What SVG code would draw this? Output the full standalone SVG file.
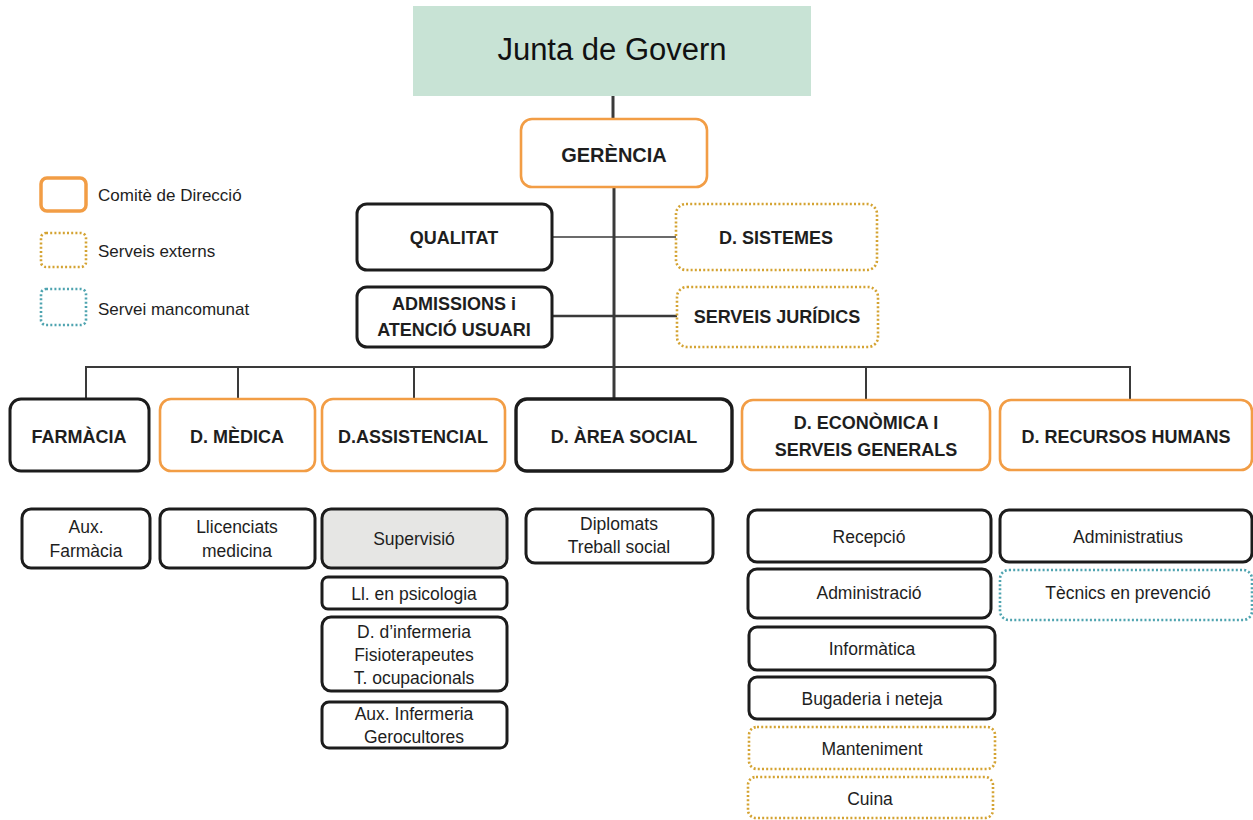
<svg xmlns="http://www.w3.org/2000/svg" width="1253" height="820" viewBox="0 0 1253 820">
<style>
  text { font-family: "Liberation Sans", Arial, sans-serif; fill: #1e1e1e; text-anchor: middle; }
  .t { font-size: 18px; font-weight: bold; }
  .s { font-size: 17.5px; }
  .lg { font-size: 17px; text-anchor: start; }
  .org { fill: #fff; stroke: #f29d45; stroke-width: 2.6; }
  .blk { fill: #fff; stroke: #1c1c1c; stroke-width: 3; }
  .gold { fill: #fff; stroke: #d4a332; stroke-width: 2.6; stroke-dasharray: 2 2.2; }
  .teal { fill: #fff; stroke: #4fa4b0; stroke-width: 2.6; stroke-dasharray: 2 2.2; }
  .ln { stroke: #3a3a3a; fill: none; }
</style>
<rect width="1253" height="820" fill="#fff"/>

<g id="connectors">
  <line class="ln" x1="613" y1="96" x2="613" y2="119" stroke-width="3"/>
  <line class="ln" x1="614" y1="187" x2="614" y2="399" stroke-width="3"/>
  <line class="ln" x1="552" y1="237" x2="676" y2="237" stroke-width="1.6"/>
  <line class="ln" x1="552" y1="316" x2="677" y2="316" stroke-width="2.4"/>
  <polyline class="ln" points="86,399 86,367 1130,367 1130,400" stroke-width="2"/>
  <line class="ln" x1="238" y1="367" x2="238" y2="399" stroke-width="2"/>
  <line class="ln" x1="414" y1="367" x2="414" y2="399" stroke-width="2"/>
  <line class="ln" x1="866" y1="367" x2="866" y2="400" stroke-width="2"/>
</g>

<g id="legend">
  <rect x="41" y="178" width="45" height="33" rx="6" fill="#fff" stroke="#f29d45" stroke-width="3.5"/>
  <text class="lg" x="98" y="201">Comitè de Direcció</text>
  <rect class="gold" x="41" y="233" width="45" height="34" rx="5"/>
  <text class="lg" x="98" y="257">Serveis externs</text>
  <rect class="teal" x="41" y="289" width="45" height="36" rx="5"/>
  <text class="lg" x="98" y="315">Servei mancomunat</text>
</g>

<g id="junta">
  <rect x="413" y="6" width="398" height="90" fill="#c8e3d5"/>
  <text x="612" y="60" style="font-size:31px;fill:#111">Junta de Govern</text>
</g>

<g id="gerencia">
  <rect class="org" x="521" y="119" width="186" height="68" rx="11"/>
  <text class="t" x="614" y="162" style="font-size:20px">GERÈNCIA</text>
</g>

<g id="qualitat">
  <rect class="blk" x="357" y="204" width="195" height="66" rx="10"/>
  <text class="t" x="454" y="244">QUALITAT</text>
</g>
<g id="sistemes">
  <rect class="gold" x="676" y="204" width="201" height="66" rx="10"/>
  <text class="t" x="776" y="244">D. SISTEMES</text>
</g>
<g id="admissions">
  <rect class="blk" x="357" y="287" width="195" height="60" rx="10"/>
  <text class="t" x="454" y="310">ADMISSIONS i</text>
  <text class="t" x="454" y="336">ATENCIÓ USUARI</text>
</g>
<g id="juridics">
  <rect class="gold" x="677" y="287" width="201" height="60" rx="10"/>
  <text class="t" x="777" y="323">SERVEIS JURÍDICS</text>
</g>

<g id="farmacia">
  <rect class="blk" x="10" y="399" width="139" height="72" rx="11"/>
  <text class="t" x="79" y="443">FARMÀCIA</text>
</g>
<g id="medica">
  <rect class="org" x="160" y="399" width="155" height="72" rx="11"/>
  <text class="t" x="237" y="443">D. MÈDICA</text>
</g>
<g id="assistencial">
  <rect class="org" x="322" y="399" width="183" height="72" rx="11"/>
  <text class="t" x="413" y="443">D.ASSISTENCIAL</text>
</g>
<g id="social">
  <rect class="blk" x="516" y="399" width="216" height="72" rx="11" style="stroke-width:3.4"/>
  <text class="t" x="624" y="443">D. ÀREA SOCIAL</text>
</g>
<g id="economica">
  <rect class="org" x="742" y="400" width="248" height="70" rx="11"/>
  <text class="t" x="866" y="429">D. ECONÒMICA I</text>
  <text class="t" x="866" y="456">SERVEIS GENERALS</text>
</g>
<g id="rrhh">
  <rect class="org" x="1000" y="400" width="252" height="70" rx="11"/>
  <text class="t" x="1126" y="443">D. RECURSOS HUMANS</text>
</g>

<g id="aux-farmacia">
  <rect class="blk" x="22" y="509" width="128" height="59" rx="9"/>
  <text class="s" x="86" y="533">Aux.</text>
  <text class="s" x="86" y="557">Farmàcia</text>
</g>
<g id="llicenciats">
  <rect class="blk" x="160" y="509" width="155" height="59" rx="9"/>
  <text class="s" x="237" y="533">Llicenciats</text>
  <text class="s" x="237" y="557">medicina</text>
</g>
<g id="supervisio">
  <rect class="blk" x="322" y="509" width="185" height="59" rx="9" style="fill:#e6e6e4"/>
  <text class="s" x="414" y="545">Supervisió</text>
</g>
<g id="psicologia">
  <rect class="blk" x="322" y="577" width="185" height="32" rx="6"/>
  <text class="s" x="414" y="600">Ll. en psicologia</text>
</g>
<g id="infermeria">
  <rect class="blk" x="322" y="617" width="185" height="74" rx="9"/>
  <text class="s" x="414" y="638">D. d’infermeria</text>
  <text class="s" x="414" y="661">Fisioterapeutes</text>
  <text class="s" x="414" y="684">T. ocupacionals</text>
</g>
<g id="aux-infermeria">
  <rect class="blk" x="322" y="702" width="185" height="46" rx="7"/>
  <text class="s" x="414" y="720">Aux. Infermeria</text>
  <text class="s" x="414" y="743">Gerocultores</text>
</g>
<g id="diplomats">
  <rect class="blk" x="526" y="509" width="187" height="54" rx="9"/>
  <text class="s" x="619" y="530">Diplomats</text>
  <text class="s" x="619" y="553">Treball social</text>
</g>
<g id="recepcio">
  <rect class="blk" x="748" y="510" width="243" height="52" rx="9"/>
  <text class="s" x="869" y="543">Recepció</text>
</g>
<g id="administracio">
  <rect class="blk" x="748" y="569" width="243" height="49" rx="9"/>
  <text class="s" x="869" y="599">Administració</text>
</g>
<g id="informatica">
  <rect class="blk" x="749" y="627" width="246" height="43" rx="8"/>
  <text class="s" x="872" y="655">Informàtica</text>
</g>
<g id="bugaderia">
  <rect class="blk" x="749" y="677" width="246" height="42" rx="8"/>
  <text class="s" x="872" y="705">Bugaderia i neteja</text>
</g>
<g id="manteniment">
  <rect class="gold" x="749" y="727" width="246" height="42" rx="8"/>
  <text class="s" x="872" y="755">Manteniment</text>
</g>
<g id="cuina">
  <rect class="gold" x="748" y="777" width="245" height="41" rx="8"/>
  <text class="s" x="870" y="805">Cuina</text>
</g>
<g id="administratius">
  <rect class="blk" x="1000" y="510" width="252" height="52" rx="9"/>
  <text class="s" x="1128" y="543">Administratius</text>
</g>
<g id="tecnics">
  <rect class="teal" x="1000" y="570" width="252" height="50" rx="9"/>
  <text class="s" x="1128" y="599">Tècnics en prevenció</text>
</g>
</svg>
